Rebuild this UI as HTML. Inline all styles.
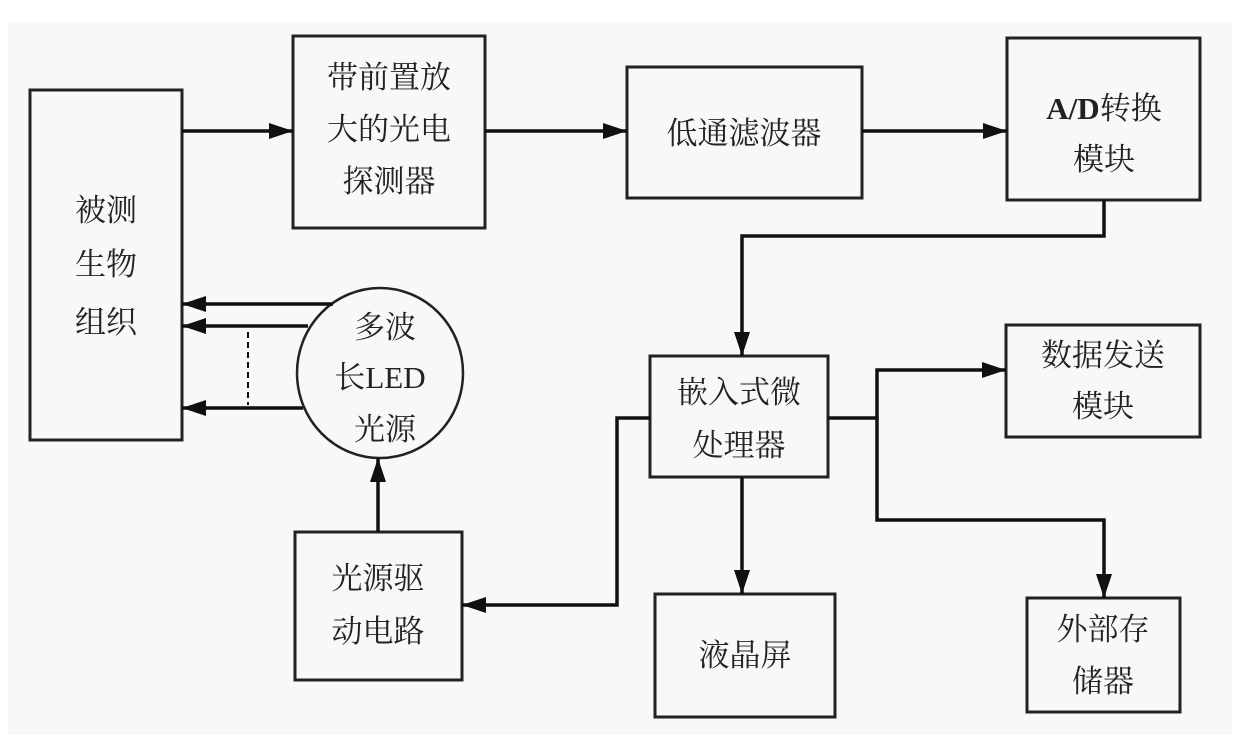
<!DOCTYPE html>
<html><head><meta charset="utf-8"><style>
body{margin:0;width:1240px;height:747px;background:#fff;overflow:hidden}
svg text{font-family:"Liberation Serif","Noto Serif CJK SC",serif;font-size:31px;fill:#222;text-anchor:middle}
</style></head><body>
<svg width="1240" height="747" viewBox="0 0 1240 747">
<defs><marker id="a" markerWidth="10" markerHeight="10" refX="9" refY="5" orient="auto" markerUnits="userSpaceOnUse" viewBox="0 0 10 10"><path d="M0,0 L10,5 L0,10z" fill="#111"/></marker>
<marker id="b" markerWidth="24" markerHeight="20" refX="24" refY="10" orient="auto" markerUnits="userSpaceOnUse"><path d="M0,2 L24,10 L0,18z" fill="#111"/></marker></defs>
<rect x="8" y="22" width="1224" height="713" fill="#f8f8f8"/>
<g fill="none" stroke="#222" stroke-width="3">
<rect x="30" y="90" width="152" height="350"/>
<rect x="293" y="36" width="192" height="192"/>
<rect x="627" y="67" width="235" height="131"/>
<rect x="1007" y="38" width="193" height="162"/>
<rect x="650" y="356" width="178" height="121"/>
<rect x="1006" y="325" width="194" height="112"/>
<rect x="1027" y="598" width="153" height="114"/>
<rect x="655" y="594" width="180" height="123"/>
<rect x="295" y="532" width="167" height="148"/>
<ellipse cx="380" cy="373" rx="83" ry="85" stroke-width="2.5"/>
</g>
<g fill="none" stroke="#111" stroke-width="3.5">
<path d="M182 131 H293" marker-end="url(#b)"/>
<path d="M485 131 H627" marker-end="url(#b)"/>
<path d="M862 131 H1007" marker-end="url(#b)"/>
<path d="M1104 200 V236 H742 V356" marker-end="url(#b)"/>
<path d="M828 418 H877 V370 H1006" marker-end="url(#b)"/>
<path d="M877 418 V520 H1104 V598" marker-end="url(#b)"/>
<path d="M742 477 V594" marker-end="url(#b)"/>
<path d="M650 418 H617 V605 H462" marker-end="url(#b)"/>
<path d="M378 532 V458" marker-end="url(#b)"/>
<path d="M333 304 H182" marker-end="url(#b)"/>
<path d="M308 326 H182" marker-end="url(#b)"/>
<path d="M303 408 H182" marker-end="url(#b)"/>
<path d="M248 332 V405" stroke-width="2" stroke-dasharray="6,4"/>
</g>
<text x="106" y="221">被测</text><text x="106" y="275">生物</text><text x="106" y="333">组织</text>
<text x="389" y="88">带前置放</text><text x="389" y="140">大的光电</text><text x="389" y="192">探测器</text>
<text x="744" y="144">低通滤波器</text>
<text x="1104" y="119" font-weight="bold">A/D<tspan font-weight="normal">转换</tspan></text><text x="1104" y="170">模块</text>
<text x="385" y="338">多波</text><text x="380" y="388">长LED</text><text x="385" y="440">光源</text>
<text x="739" y="403">嵌入式微</text><text x="739" y="456">处理器</text>
<text x="1103" y="366">数据发送</text><text x="1103" y="417">模块</text>
<text x="745" y="666">液晶屏</text>
<text x="1103" y="640">外部存</text><text x="1103" y="692">储器</text>
<text x="378" y="589">光源驱</text><text x="378" y="642">动电路</text>
</svg>
</body></html>
